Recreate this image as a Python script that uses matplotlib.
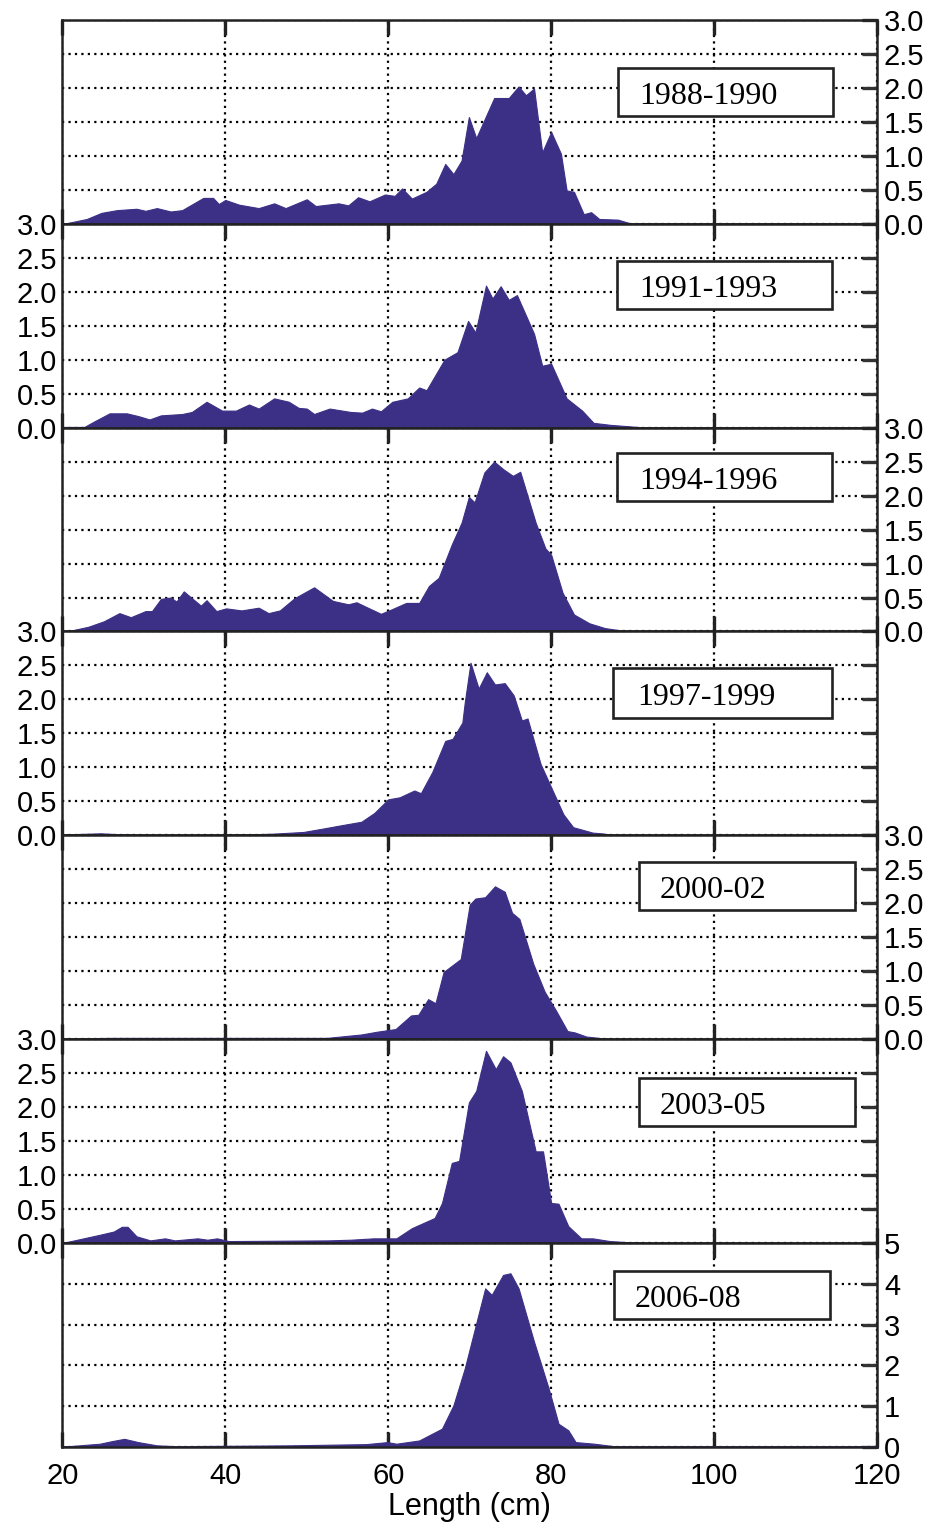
import numpy as np
import matplotlib
matplotlib.use("Agg")
from matplotlib import pyplot as plt
from matplotlib.patches import Rectangle

# period labels for each panel
periods = ["1988-1990", "1991-1993", "1994-1996", "1997-1999",
           "2000-02", "2003-05", "2006-08"]

# length (cm) and relative frequency
x_8890 = [20, 20.6, 23, 24.8, 26.7, 29.1, 30.2, 31.6, 33.3, 34.7, 37.3, 38.5, 39.2, 40,
          41.7, 44.1, 46, 47.4, 50, 51.1, 53.9, 55.1, 56.3, 57.7, 59.6, 60.8, 61.7,
          62.9, 64.7, 65.9, 67, 68, 69, 69.9, 70.8, 73, 74.8, 76, 76.9, 77.9, 78.9,
          80, 81.2, 81.9, 82.8, 84, 84.9, 85.9, 88.2, 89.6, 90, 120]
y_8890 = [0, 0.01, 0.07, 0.16, 0.2, 0.22, 0.19, 0.23, 0.18, 0.2, 0.38, 0.38, 0.29, 0.35,
          0.28, 0.23, 0.3, 0.23, 0.36, 0.26, 0.3, 0.27, 0.39, 0.33, 0.43, 0.41, 0.52,
          0.37, 0.47, 0.59, 0.88, 0.73, 0.93, 1.57, 1.26, 1.85, 1.85, 2.02, 1.89, 1.99, 1.05,
          1.35, 1.03, 0.49, 0.47, 0.14, 0.17, 0.07, 0.06, 0.01, 0, 0]

x_9193 = [20, 22.7, 23.9, 25.8, 27.9, 29.3, 30.7, 32.1, 34.7, 35.9, 37.7, 39.6, 41.3,
          42.9, 44.1, 46, 47.8, 49, 50, 50.9, 52.8, 55.4, 56.8, 58, 59.1, 60.5, 62.4,
          63.8, 64.7, 66.9, 68.5, 69.8, 70.7, 72, 72.8, 73.8, 74.8, 75.8, 77.9, 78.9,
          80, 81.9, 83.8, 85.2, 87.3, 90.6, 92, 120]
y_9193 = [0.01, 0.01, 0.09, 0.21, 0.21, 0.17, 0.12, 0.18, 0.2, 0.23, 0.38, 0.25, 0.25,
          0.34, 0.28, 0.43, 0.38, 0.29, 0.28, 0.2, 0.28, 0.23, 0.22, 0.28, 0.24, 0.38, 0.43,
          0.59, 0.55, 1.0, 1.11, 1.57, 1.4, 2.09, 1.9, 2.08, 1.88, 1.95, 1.38, 0.91,
          0.94, 0.43, 0.25, 0.07, 0.04, 0.01, 0, 0]

x_9496 = [20, 21.3, 23.2, 25.1, 27, 28.4, 30.2, 31, 32.1, 33.3, 34, 34.9, 37, 37.7, 38.9,
          40.1, 42, 44.1, 45.3, 46.7, 48.5, 50.9, 53.2, 55.1, 56.1, 57.5, 59.1, 60.5,
          62.2, 63.8, 65, 66.2, 67.8, 69, 69.9, 70.6, 71.8, 73, 74.1, 75.3, 76.2, 78.1,
          79.3, 80, 81.4, 82.8, 84.7, 86.6, 88.9, 91, 120]
y_9496 = [0, 0.02, 0.07, 0.15, 0.27, 0.21, 0.3, 0.3, 0.48, 0.5, 0.44, 0.59, 0.38, 0.46, 0.3,
          0.34, 0.31, 0.35, 0.27, 0.31, 0.49, 0.65, 0.45, 0.4, 0.43, 0.35, 0.26, 0.33,
          0.42, 0.42, 0.67, 0.79, 1.28, 1.6, 1.98, 1.9, 2.34, 2.5, 2.39, 2.29, 2.35, 1.6,
          1.22, 1.13, 0.57, 0.25, 0.12, 0.05, 0.01, 0, 0]

x_9799 = [20, 20.5, 24.7, 29, 40, 45.9, 49.6, 52, 54.3, 56.7, 58.3, 60, 61.4, 63.2, 64,
          65.4, 67, 67.9, 69.1, 69.4, 70.1, 71.1, 72.1, 73.1, 74.3, 75.4, 76.4, 77.1,
          78.7, 80.1, 81.5, 82.7, 85.1, 86.2, 87.7, 90, 120]
y_9799 = [0.01, 0.015, 0.03, 0.005, 0.005, 0.025, 0.05, 0.1, 0.15, 0.2, 0.33, 0.53, 0.56,
          0.66, 0.62, 0.93, 1.39, 1.42, 1.66, 1.96, 2.54, 2.16, 2.4, 2.22, 2.24, 2.06,
          1.69, 1.72, 1.05, 0.68, 0.31, 0.12, 0.04, 0.03, 0.005, 0, 0]

x_0002 = [20, 25.9, 52.5, 56.7, 58.6, 60.9, 62.8, 63.7, 64.9, 65.8, 66.8, 68.9, 70, 70.7,
          71.9, 73.1, 74.3, 75.2, 76.1, 77.8, 79.2, 80.6, 82, 82.9, 84.3, 86.6, 89, 120]
y_0002 = [0.01, 0.02, 0.02, 0.07, 0.11, 0.15, 0.35, 0.36, 0.59, 0.53, 0.99, 1.18, 1.98,
          2.07, 2.09, 2.25, 2.17, 1.86, 1.77, 1.11, 0.7, 0.42, 0.12, 0.1, 0.04, 0.01, 0, 0]

x_0305 = [20, 20.7, 22.6, 24.5, 26.3, 27.3, 28, 29.1, 30.8, 32.6, 33.8, 36.6, 37.8, 39,
          40.4, 52.6, 55.4, 58.2, 61, 62.9, 65.7, 66.6, 67.8, 68.7, 69.9, 70.8, 72, 73.2,
          74.1, 75, 76.4, 78.1, 79, 80, 80.9, 82.1, 83.7, 85.1, 87.2, 90, 92, 120]
y_0305 = [0.01, 0.02, 0.07, 0.12, 0.17, 0.24, 0.24, 0.1, 0.04, 0.07, 0.04, 0.07, 0.05, 0.07,
          0.03, 0.04, 0.05, 0.07, 0.07, 0.22, 0.37, 0.59, 1.18, 1.21, 2.07, 2.24, 2.83,
          2.56, 2.75, 2.66, 2.24, 1.35, 1.35, 0.59, 0.58, 0.25, 0.07, 0.07, 0.03, 0.01, 0, 0]

x_0608 = [20, 20.8, 24.6, 26, 27.6, 29.3, 31.6, 33.9, 47.9, 57.3, 59.9, 61, 63.8, 66.6,
          68, 69.4, 70.8, 71.9, 72.7, 74.1, 75, 76, 77.9, 79.7, 80.9, 82.1, 83, 85.3,
          87.7, 120]
y_0608 = [0.02, 0.02, 0.08, 0.14, 0.2, 0.12, 0.04, 0.02, 0.04, 0.07, 0.12, 0.08, 0.16, 0.45,
          1.02, 1.93, 3.03, 3.89, 3.73, 4.22, 4.26, 3.89, 2.58, 1.43, 0.57, 0.41, 0.12,
          0.08, 0.02, 0.02]

xs = [x_8890, x_9193, x_9496, x_9799, x_0002, x_0305, x_0608]
ys = [y_8890, y_9193, y_9496, y_9799, y_0002, y_0305, y_0608]

# label box (x0, y0, x1, y1) and text anchor in axes fraction
boxes = [(0.682, 0.529, 0.946, 0.765), (0.681, 0.583, 0.945, 0.819),
         (0.681, 0.642, 0.945, 0.877), (0.676, 0.578, 0.945, 0.819),
         (0.708, 0.632, 0.973, 0.868), (0.708, 0.574, 0.973, 0.809),
         (0.677, 0.627, 0.942, 0.863)]
text_pos = [(0.793, 0.625), (0.793, 0.679), (0.793, 0.738), (0.791, 0.674),
            (0.799, 0.728), (0.798, 0.670), (0.768, 0.723)]

fill_col = "#3b3086"
plt.rcParams['font.family'] = ['Liberation Sans', 'DejaVu Sans']

fig, axes = plt.subplots(7, 1, figsize=(9.31, 15.27), dpi=100, sharex=True)
fig.subplots_adjust(left=0.067, right=0.942, top=0.987, bottom=0.0524, hspace=0)

for i, ax in enumerate(axes):
    ax.fill_between(xs[i], ys[i], 0, color=fill_col, lw=0.8, edgecolor=fill_col, zorder=2)
    ax.set_xlim(20, 120)
    if i == 6:
        ax.set_ylim(0, 5)
        ax.set_yticks(np.arange(0, 6, 1))
        ax.set_yticklabels([str(v) for v in range(6)])
    else:
        ax.set_ylim(0, 3)
        ax.set_yticks(np.arange(0, 3.01, 0.5))
        ax.set_yticklabels(["%.1f" % v for v in np.arange(0, 3.01, 0.5)])
    ax.set_xticks([20, 40, 60, 80, 100, 120])
    ax.grid(True, color="black", linestyle=(0, (1, 1.9)), linewidth=1.6, zorder=1)
    ax.set_axisbelow(True)
    for s in ax.spines.values():
        s.set_linewidth(1.8)
        s.set_color("#222222")
        s.set_zorder(4)

    # right ticks on every panel, labels alternate sides
    ax.tick_params(axis='y', which='both', direction='in', right=True, left=False,
                   length=11, width=2.4, labelsize=21, color="#333333")
    if i % 2 == 0:
        ax.tick_params(axis='y', labelright=True, labelleft=False, pad=5)
    else:
        ax.tick_params(axis='y', labelright=False, labelleft=True, pad=4)
    ax.tick_params(axis='x', direction='in', top=True, bottom=True, length=11,
                   width=2.4, labelsize=21, color="#222222", pad=11)

    b = boxes[i]
    ax.add_patch(Rectangle((b[0], b[1]), b[2] - b[0], b[3] - b[1], transform=ax.transAxes,
                           facecolor="white", edgecolor="#222222", lw=1.9, zorder=5))
    ax.text(text_pos[i][0], text_pos[i][1], periods[i], transform=ax.transAxes,
            ha="center", va="center", fontsize=23, family="Liberation Serif", zorder=6)

axes[-1].set_xlabel("Length (cm)", fontsize=22, labelpad=1)

plt.savefig("out.png", dpi=100)
